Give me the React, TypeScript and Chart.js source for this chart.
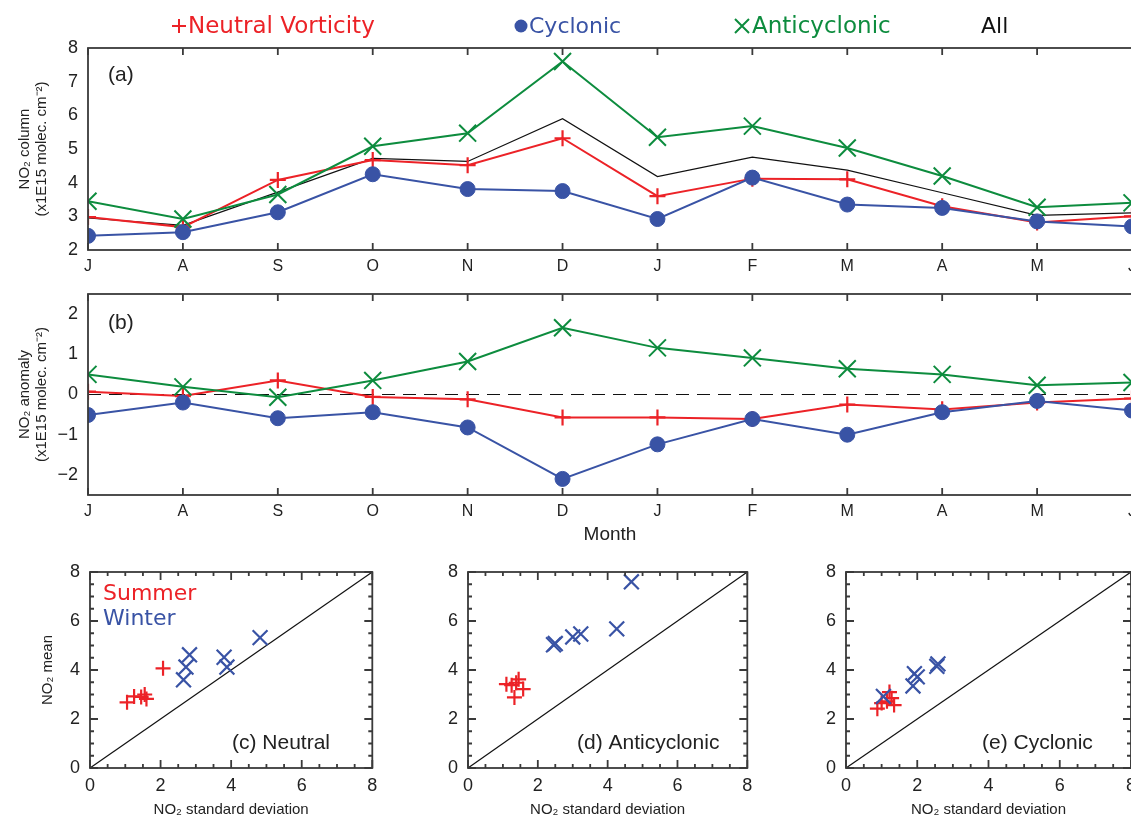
import React, { useEffect, useRef } from 'react';
import { Chart, registerables } from 'chart.js';

Chart.register(...registerables);

// ---------------- DATA ----------------
const months = ['J', 'A', 'S', 'O', 'N', 'D', 'J', 'F', 'M', 'A', 'M', 'J'];

const neutralColumn = [2.98, 2.68, 4.08, 4.67, 4.52, 5.32, 3.6, 4.12, 4.1, 3.3, 2.82, 3.0];
const cyclonicColumn = [2.42, 2.53, 3.12, 4.25, 3.81, 3.75, 2.92, 4.15, 3.35, 3.25, 2.85, 2.7];
const anticyclonicColumn = [3.45, 2.92, 3.65, 5.08, 5.47, 7.6, 5.35, 5.68, 5.03, 4.2, 3.27, 3.4];
const allColumn = [2.95, 2.73, 3.72, 4.72, 4.63, 5.9, 4.18, 4.76, 4.37, 3.7, 3.03, 3.1];

const neutralAnomaly = [0.07, -0.04, 0.35, -0.06, -0.12, -0.57, -0.57, -0.61, -0.25, -0.37, -0.2, -0.1];
const cyclonicAnomaly = [-0.51, -0.2, -0.59, -0.44, -0.82, -2.1, -1.24, -0.61, -1.0, -0.44, -0.16, -0.4];
const anticyclonicAnomaly = [0.5, 0.19, -0.07, 0.35, 0.82, 1.66, 1.16, 0.91, 0.64, 0.5, 0.23, 0.3];

const columnTicks = [2, 3, 4, 5, 6, 7, 8];
const anomalyTicks = [-2, -1, 0, 1, 2];
const scatterTicks = [0, 2, 4, 6, 8];
const diagonal = [0, 8];

// scatter: standard deviation (x) vs mean (y)
const neutralSummerSd = [1.05, 1.25, 1.45, 1.55, 1.6, 2.07];
const neutralSummerMean = [2.68, 2.92, 2.9, 3.0, 2.82, 4.07];
const neutralWinterSd = [2.65, 2.72, 2.82, 3.8, 3.88, 4.82];
const neutralWinterMean = [3.6, 4.12, 4.62, 4.52, 4.12, 5.32];

const anticycSummerSd = [1.1, 1.25, 1.38, 1.45, 1.58, 1.33];
const anticycSummerMean = [3.42, 3.38, 3.48, 3.62, 3.22, 2.88];
const anticycWinterSd = [2.45, 2.5, 3.0, 3.23, 4.26, 4.68];
const anticycWinterMean = [5.03, 5.08, 5.35, 5.47, 5.68, 7.6];

const cycSummerSd = [0.88, 1.0, 1.15, 1.22, 1.28, 1.35];
const cycSummerMean = [2.42, 2.65, 2.72, 3.1, 2.85, 2.57];
const cycWinterSd = [1.05, 1.88, 1.92, 2.0, 2.55, 2.58];
const cycWinterMean = [2.92, 3.35, 3.85, 3.72, 4.15, 4.25];

// ---------------- STYLE ----------------
const RED = '#ec2227';
const BLUE = '#3953a5';
const GREEN = '#0d8c3e';
const INK = '#222';
const FRAME = '#3a3a3a';
const FONT = "'Liberation Sans', Arial, Helvetica, sans-serif";
const HERSHEY = "'DejaVu Sans', sans-serif";

Chart.defaults.font.family = FONT;
Chart.defaults.color = INK;

// ---------------- PLUGINS ----------------
const framePlugin = {
  id: 'frame',
  afterDatasetsDraw(chart: any, _args: any, opts: any) {
    if (!opts || !opts.enabled) return;
    const { ctx, chartArea: a } = chart;
    const xs = chart.scales.x;
    const ys = chart.scales.y;
    ctx.save();
    ctx.strokeStyle = opts.color || FRAME;
    ctx.lineWidth = opts.lineWidth || 1.8;
    ctx.beginPath();
    if (opts.mode === 'category') {
      const n = chart.data.labels.length;
      for (let i = 0; i < n; i++) {
        const px = xs.getPixelForValue(i);
        ctx.moveTo(px, a.bottom);
        ctx.lineTo(px, a.bottom - opts.tick);
        ctx.moveTo(px, a.top);
        ctx.lineTo(px, a.top + opts.tick);
      }
    } else {
      const isMajor = (v: number) =>
        Math.abs(v / opts.majorStep - Math.round(v / opts.majorStep)) < 1e-6;
      for (let v = xs.min; v <= xs.max + 1e-9; v += opts.minorStep) {
        const L = isMajor(v) ? opts.tick : opts.minorTick;
        const px = xs.getPixelForValue(v);
        ctx.moveTo(px, a.bottom);
        ctx.lineTo(px, a.bottom - L);
        ctx.moveTo(px, a.top);
        ctx.lineTo(px, a.top + L);
      }
      for (let v = ys.min; v <= ys.max + 1e-9; v += opts.minorStep) {
        const L = isMajor(v) ? opts.tick : opts.minorTick;
        const py = ys.getPixelForValue(v);
        ctx.moveTo(a.left, py);
        ctx.lineTo(a.left + L, py);
        ctx.moveTo(a.right, py);
        ctx.lineTo(a.right - L, py);
      }
    }
    ctx.stroke();
    ctx.strokeRect(a.left, a.top, a.right - a.left, a.bottom - a.top);
    ctx.restore();
  },
};

const hlinePlugin = {
  id: 'hline',
  beforeDatasetsDraw(chart: any, _args: any, opts: any) {
    if (!opts || !opts.enabled) return;
    const { ctx, chartArea: a } = chart;
    const py = chart.scales.y.getPixelForValue(opts.value);
    ctx.save();
    ctx.strokeStyle = '#111';
    ctx.lineWidth = 1.2;
    ctx.setLineDash([13, 8]);
    ctx.beginPath();
    ctx.moveTo(a.left, py);
    ctx.lineTo(a.right, py);
    ctx.stroke();
    ctx.restore();
  },
};

const textsPlugin = {
  id: 'texts',
  afterDraw(chart: any, _args: any, opts: any) {
    if (!opts || !opts.items) return;
    const { ctx } = chart;
    ctx.save();
    for (const it of opts.items) {
      ctx.textBaseline = 'middle';
      ctx.textAlign = it.align || 'left';
      ctx.fillStyle = it.color || INK;
      ctx.strokeStyle = it.color || INK;
      if (it.symbol === 'plus') {
        ctx.lineWidth = 2;
        ctx.beginPath();
        ctx.moveTo(it.x - it.r, it.y);
        ctx.lineTo(it.x + it.r, it.y);
        ctx.moveTo(it.x, it.y - it.r);
        ctx.lineTo(it.x, it.y + it.r);
        ctx.stroke();
      } else if (it.symbol === 'dot') {
        ctx.beginPath();
        ctx.arc(it.x, it.y, it.r, 0, Math.PI * 2);
        ctx.fill();
      } else if (it.symbol === 'x') {
        ctx.lineWidth = 2;
        ctx.beginPath();
        ctx.moveTo(it.x - it.r, it.y - it.r);
        ctx.lineTo(it.x + it.r, it.y + it.r);
        ctx.moveTo(it.x - it.r, it.y + it.r);
        ctx.lineTo(it.x + it.r, it.y - it.r);
        ctx.stroke();
      } else {
        ctx.font = it.font;
        ctx.fillText(it.text, it.x, it.y);
      }
    }
    ctx.restore();
  },
};

Chart.register(framePlugin as any, hlinePlugin as any, textsPlugin as any);

const minus = (v: any) => String(v).replace('-', '\u2212');

const noPad = (s: any) => {
  s.paddingTop = 0;
  s.paddingBottom = 0;
  s.paddingLeft = 0;
  s.paddingRight = 0;
};

// ---------------- CONFIGS ----------------
function makeLineConfig(panel: 'a' | 'b'): any {
  const isA = panel === 'a';
  const datasets: any[] = [
    {
      label: 'Cyclonic',
      data: isA ? cyclonicColumn : cyclonicAnomaly,
      borderColor: BLUE,
      backgroundColor: BLUE,
      borderWidth: 2,
      pointStyle: 'circle',
      pointRadius: 7.5,
      pointBorderWidth: 1,
      pointBackgroundColor: BLUE,
      pointBorderColor: BLUE,
    },
    {
      label: 'Anticyclonic',
      data: isA ? anticyclonicColumn : anticyclonicAnomaly,
      borderColor: GREEN,
      backgroundColor: GREEN,
      borderWidth: 2,
      pointStyle: 'crossRot',
      pointRadius: 12,
      pointBorderWidth: 2,
      pointBorderColor: GREEN,
    },
    {
      label: 'Neutral Vorticity',
      data: isA ? neutralColumn : neutralAnomaly,
      borderColor: RED,
      backgroundColor: RED,
      borderWidth: 2,
      pointStyle: 'cross',
      pointRadius: 8,
      pointBorderWidth: 2.2,
      pointBorderColor: RED,
    },
  ];
  if (isA) {
    datasets.push({
      label: 'All',
      data: allColumn,
      borderColor: '#111',
      borderWidth: 1.2,
      pointRadius: 0,
    });
  }
  datasets.forEach((d) => {
    d.clip = 0;
    d.tension = 0;
    d.fill = false;
    d.pointHoverRadius = d.pointRadius;
  });

  const items: any[] = isA
    ? [
        { symbol: 'plus', x: 179, y: 26, r: 7, color: RED },
        { text: 'Neutral Vorticity', x: 188, y: 27, color: RED, font: `23px ${HERSHEY}` },
        { symbol: 'dot', x: 521, y: 26, r: 6.5, color: BLUE },
        { text: 'Cyclonic', x: 529, y: 27, color: BLUE, font: `22px ${HERSHEY}` },
        { symbol: 'x', x: 742, y: 26, r: 7, color: GREEN },
        { text: 'Anticyclonic', x: 752, y: 27, color: GREEN, font: `23px ${HERSHEY}` },
        { text: 'All', x: 981, y: 27, color: '#111', font: `22px ${HERSHEY}` },
        { text: '(a)', x: 108, y: 75, color: INK, font: `21px ${FONT}` },
      ]
    : [{ text: '(b)', x: 108, y: 43, color: INK, font: `21px ${FONT}` }];

  return {
    type: 'line',
    data: { labels: months, datasets },
    options: {
      responsive: false,
      animation: false,
      events: [],
      layout: { padding: { top: isA ? 48 : 13, right: 18, left: 0, bottom: 0 } },
      plugins: {
        legend: { display: false },
        tooltip: { enabled: false },
        frame: { enabled: true, mode: 'category', tick: 7, color: FRAME, lineWidth: 1.8 },
        hline: isA ? { enabled: false } : { enabled: true, value: 0 },
        texts: { items },
      },
      scales: {
        x: {
          type: 'category',
          grid: { display: false, drawTicks: false },
          border: { display: false },
          ticks: { font: { size: 16 }, color: INK, padding: 7, maxRotation: 0, autoSkip: false },
          afterFit: (s: any) => {
            s.height = isA ? 30 : 65;
            noPad(s);
          },
          title: isA
            ? { display: false }
            : { display: true, text: 'Month', font: { size: 19 }, color: INK, padding: { top: 0, bottom: 13.6 } },
        },
        y: {
          type: 'linear',
          min: isA ? 2 : -2.5,
          max: isA ? 8 : 2.5,
          grid: { display: false, drawTicks: false },
          border: { display: false },
          ticks: { font: { size: 18 }, color: INK, padding: 10, callback: (v: any) => minus(v) },
          afterBuildTicks: (s: any) => {
            s.ticks = (isA ? columnTicks : anomalyTicks).map((v) => ({ value: v }));
          },
          afterFit: (s: any) => {
            s.width = 88;
            noPad(s);
          },
          title: {
            display: true,
            text: isA
              ? ['NO\u2082 column', '(x1E15 molec. cm\u207B\u00B2)']
              : ['NO\u2082 anomaly', '(x1E15 molec. cm\u207B\u00B2)'],
            font: { size: 15, lineHeight: 1.13 },
            color: INK,
            padding: { top: 16.5, bottom: 0 },
          },
        },
      },
    },
  };
}

function zip(xs: number[], ys: number[]) {
  return xs.map((x, i) => ({ x, y: ys[i] }));
}

function makeScatterConfig(panel: 'c' | 'd' | 'e'): any {
  const sets = {
    c: [neutralSummerSd, neutralSummerMean, neutralWinterSd, neutralWinterMean],
    d: [anticycSummerSd, anticycSummerMean, anticycWinterSd, anticycWinterMean],
    e: [cycSummerSd, cycSummerMean, cycWinterSd, cycWinterMean],
  }[panel];
  const yWidth = { c: 90, d: 88, e: 86 }[panel];
  const padRight = { c: 10, d: 8, e: 29 }[panel];
  const items: any[] = [];
  if (panel === 'c') {
    items.push({ text: 'Summer', x: 103, y: 39, color: RED, font: `22px ${HERSHEY}` });
    items.push({ text: 'Winter', x: 103, y: 64, color: BLUE, font: `22px ${HERSHEY}` });
    items.push({ text: '(c) Neutral', x: 232, y: 188, color: INK, font: `21px ${FONT}` });
  } else if (panel === 'd') {
    items.push({ text: '(d) Anticyclonic', x: 197, y: 188, color: INK, font: `21px ${FONT}` });
  } else {
    items.push({ text: '(e) Cyclonic', x: 222, y: 188, color: INK, font: `21px ${FONT}` });
  }

  return {
    type: 'scatter',
    data: {
      datasets: [
        {
          label: 'Winter',
          data: zip(sets[2], sets[3]),
          pointStyle: 'crossRot',
          pointRadius: 10.5,
          pointHoverRadius: 10.5,
          pointBorderWidth: 2.2,
          borderColor: BLUE,
          backgroundColor: BLUE,
        },
        {
          label: 'Summer',
          data: zip(sets[0], sets[1]),
          pointStyle: 'cross',
          pointRadius: 7.5,
          pointHoverRadius: 7.5,
          pointBorderWidth: 2.2,
          borderColor: RED,
          backgroundColor: RED,
        },
        {
          type: 'line',
          label: '1:1',
          data: diagonal.map((v) => ({ x: v, y: v })),
          borderColor: '#111',
          borderWidth: 1.2,
          pointRadius: 0,
          showLine: true,
          fill: false,
        },
      ],
    },
    options: {
      responsive: false,
      animation: false,
      events: [],
      layout: { padding: { top: 17, right: padRight, left: 0, bottom: 0 } },
      plugins: {
        legend: { display: false },
        tooltip: { enabled: false },
        frame: { enabled: true, mode: 'linear', tick: 8, minorTick: 4, majorStep: 2, minorStep: 0.5, color: FRAME, lineWidth: 1.8 },
        hline: { enabled: false },
        texts: { items },
      },
      scales: {
        x: {
          type: 'linear',
          min: 0,
          max: 8,
          grid: { display: false, drawTicks: false },
          border: { display: false },
          ticks: { font: { size: 18 }, color: INK, padding: 7, maxRotation: 0 },
          afterBuildTicks: (s: any) => {
            s.ticks = scatterTicks.map((v) => ({ value: v }));
          },
          afterFit: (s: any) => {
            s.height = 53;
            noPad(s);
          },
          title: {
            display: true,
            text: 'NO\u2082 standard deviation',
            font: { size: 15 },
            color: INK,
            padding: { top: 0, bottom: 2 },
          },
        },
        y: {
          type: 'linear',
          min: 0,
          max: 8,
          grid: { display: false, drawTicks: false },
          border: { display: false },
          ticks: { font: { size: 18 }, color: INK, padding: 10 },
          afterBuildTicks: (s: any) => {
            s.ticks = scatterTicks.map((v) => ({ value: v }));
          },
          afterFit: (s: any) => {
            s.width = yWidth;
            noPad(s);
          },
          title:
            panel === 'c'
              ? { display: true, text: 'NO\u2082 mean', font: { size: 15 }, color: INK, padding: { top: 39, bottom: 0 } }
              : { display: false },
        },
      },
    },
  };
}

// ---------------- COMPONENTS ----------------
function ChartCanvas(props: { x: number; y: number; w: number; h: number; make: () => any }) {
  const ref = useRef<HTMLCanvasElement>(null);
  useEffect(() => {
    const chart = new Chart(ref.current as HTMLCanvasElement, props.make());
    return () => chart.destroy();
  }, []);
  return (
    <canvas
      ref={ref}
      width={props.w}
      height={props.h}
      style={{ position: 'absolute', left: props.x, top: props.y, width: props.w, height: props.h }}
    />
  );
}

export default function App() {
  return (
    <div
      style={{
        position: 'fixed',
        left: 0,
        top: 0,
        width: 1131,
        height: 821,
        overflow: 'hidden',
        background: '#fff',
      }}
    >
      <ChartCanvas x={0} y={0} w={1150} h={280} make={() => makeLineConfig('a')} />
      <ChartCanvas x={0} y={280} w={1150} h={280} make={() => makeLineConfig('b')} />
      <ChartCanvas x={0} y={555} w={385} h={266} make={() => makeScatterConfig('c')} />
      <ChartCanvas x={380} y={555} w={380} h={266} make={() => makeScatterConfig('d')} />
      <ChartCanvas x={760} y={555} w={400} h={266} make={() => makeScatterConfig('e')} />
    </div>
  );
}
